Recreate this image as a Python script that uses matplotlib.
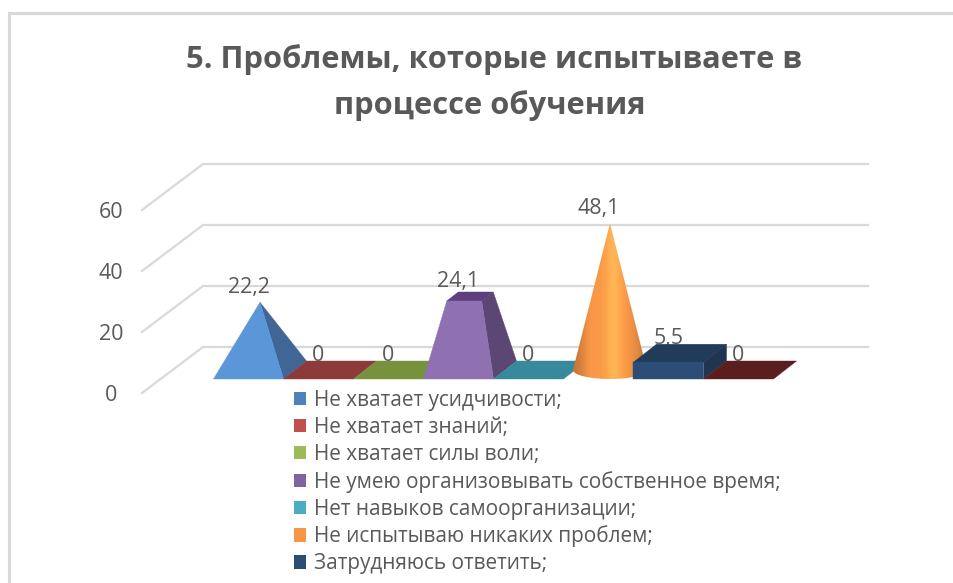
import numpy as np
import matplotlib
matplotlib.use("Agg")
import matplotlib.pyplot as plt
from matplotlib.patches import Polygon, Rectangle, PathPatch
from matplotlib.path import Path

plt.rcParams['font.family'] = ['Open Sans', 'DejaVu Sans']

title_lines = ["5. Проблемы, которые испытываете в", "процессе обучения"]
categories = [
    "Не хватает усидчивости;",
    "Не хватает знаний;",
    "Не хватает силы воли;",
    "Не умею организовывать собственное время;",
    "Нет навыков самоорганизации;",
    "Не испытываю никаких проблем;",
    "Затрудняюсь ответить;",
]
values = [22.2, 0, 0, 24.1, 0, 48.1, 5.5, 0]
value_labels = ["22,2", "0", "0", "24,1", "0", "48,1", "5,5", "0"]
y_ticks = [0, 20, 40, 60]
legend_colors = ["#4F81BD", "#C0504D", "#9BBB59", "#8064A2", "#4BACC6", "#F79646", "#2C4D75"]
front_colors = ["#5B96D8", "#8E3A3A", "#76923C", "#8F70B0", "#378A9C", "#F79646", "#2C4D75", "#5A1E1E"]
side_colors = ["#3F6695", "#8E3A3A", "#76923C", "#5C4674", "#378A9C", "#F79646", "#1F3550", "#5A1E1E"]
top_colors = ["#3F6695", "#8E3A3A", "#76923C", "#5C3F7C", "#378A9C", "#F79646", "#213B5A", "#5A1E1E"]

text_color = "#595959"
grid_color = "#D9D9D9"

W, H = 954, 583
# one category = 70 px, one value unit = 3.05 px
X0, Y0, XU, YU = 213.5, 379.0, 70.0, 3.05
DX, DY = 23 / XU, 18 / YU

fig = plt.figure(figsize=(W / 100, H / 100), dpi=100, facecolor="white")
ax = fig.add_axes([0, 0, 1, 1])
ax.axis("off")


def px(x, y):
    return (x - X0) / XU, (Y0 - y) / YU


def poly(pts, color, i):
    ax.add_patch(Polygon(pts, fc=color, ec=color, lw=0.3, zorder=3 + i))


# chart frame, cut by the screenshot
fx0, fy0 = px(9, 13)
fx1, fy1 = px(W + 5, H + 5)
ax.add_patch(Rectangle((fx0, fy1), fx1 - fx0, fy0 - fy1, fc="none", ec=grid_color, lw=2.2, zorder=1))

# walls
for t in y_ticks:
    lx0, ly0 = px(142, 393 - t * YU)
    lx1, ly1 = px(203, 347 - t * YU)
    lx2, _ = px(868, 0)
    ax.plot([lx0, lx1, lx2], [ly0, ly1, ly1], color=grid_color, lw=1.6, zorder=1,
            solid_joinstyle="miter")
    tx, ty = px(111, 395.5 - t * YU)
    ax.text(tx, ty, str(t), ha="center", va="center", fontsize=15.5, color=text_color)

# data labels go under the bars, the box hides part of its label
for i, (v, lab) in enumerate(zip(values, value_labels)):
    ax.annotate(lab, (i + 0.5, v), xytext=(0, 17), textcoords="offset points",
                ha="center", va="center", fontsize=15.4, color=text_color, zorder=2)


def flat(i, color):
    poly([(i, 0), (i + 1, 0), (i + 1 + DX, DY), (i + DX, DY)], color, i)


def pyramid(i, v, front, side):
    apex = (i + 0.5 + DX / 2, v + DY / 2)
    poly([(i + 1, 0), (i + 1 + DX, DY), apex], side, i)
    poly([(i, 0), (i + 1, 0), apex], front, i)


def truncated(i, v, front, side, top):
    cx, cy = i + 0.5 + DX / 2, v + DY / 2
    hw, hx, hy = 0.25, DX / 4, DY / 4
    fl = (cx - hw - hx, cy - hy)
    fr = (cx + hw - hx, cy - hy)
    bl = (cx - hw + hx, cy + hy)
    br = (cx + hw + hx, cy + hy)
    poly([(i + 1, 0), (i + 1 + DX, DY), br, fr], side, i)
    poly([fl, fr, br, bl], top, i)
    poly([(i, 0), (i + 1, 0), fr, fl], front, i)


def cone(i, v):
    cx, cy = i + 0.5 + DX / 2, DY / 2
    rx, ry = 37 / XU, 9 / YU
    t = np.linspace(np.pi, 2 * np.pi, 60)
    pts = [(cx + rx * np.cos(a), cy + ry * np.sin(a)) for a in t] + [(cx, v + DY / 2)]
    clip = PathPatch(Path(pts + [pts[0]], closed=True), transform=ax.transData, fc="none", ec="none")
    ax.add_patch(clip)
    shades = np.array([0.8, 0.92, 1.03, 1.0, 1.08, 1.28, 1.08, 1.0, 0.94, 0.82])
    base = np.array(matplotlib.colors.to_rgb("#F79646"))
    grad = np.clip(shades[:, None] * base, 0, 1)[None, :, :]
    im = ax.imshow(grad, extent=(cx - rx, cx + rx, 0, v + DY), aspect="auto",
                   interpolation="bicubic", zorder=3 + i)
    im.set_clip_path(clip)


def box(i, v, front, side, top):
    poly([(i + DX, v + DY), (i + 1 + DX, v + DY), (i + 1, v), (i, v)], top, i)
    poly([(i + 1, 0), (i + 1 + DX, DY), (i + 1 + DX, v + DY), (i + 1, v)], side, i)
    poly([(i, 0), (i + 1, 0), (i + 1, v), (i, v)], front, i)


for i, v in enumerate(values):
    if v == 0:
        flat(i, front_colors[i])
    elif i == 0:
        pyramid(i, v, front_colors[i], side_colors[i])
    elif i == 3:
        truncated(i, v, front_colors[i], side_colors[i], top_colors[i])
    elif i == 5:
        cone(i, v)
    else:
        box(i, v, front_colors[i], side_colors[i], top_colors[i])

ax.set_xlim(-X0 / XU, (W - X0) / XU)
ax.set_ylim((Y0 - H) / YU, Y0 / YU)

tx, ty = px(494.5, 60)
ax.text(tx, ty, title_lines[0], ha="center", va="center", fontsize=22.25, fontweight="bold", color=text_color)
tx, ty = px(489.5, 105.5)
ax.text(tx, ty, title_lines[1], ha="center", va="center", fontsize=22.25, fontweight="bold", color=text_color)

handles = [Rectangle((0, 0), 1, 1, fc=c, ec="none") for c in legend_colors]
lx, ly = px(294, 390)
ax.legend(handles, categories, loc="upper left", bbox_to_anchor=(lx, ly),
          bbox_transform=ax.transData, frameon=False, fontsize=14.95, labelcolor=text_color,
          handlelength=0.6, handleheight=0.6, handletextpad=0.36, labelspacing=0.285,
          borderpad=0, borderaxespad=0)

fig.savefig("out.png", dpi=100)
